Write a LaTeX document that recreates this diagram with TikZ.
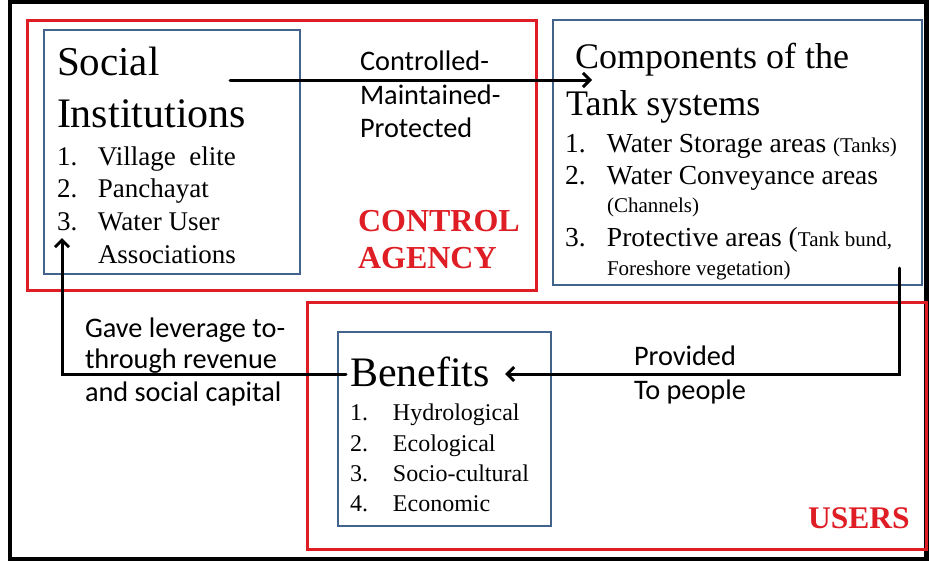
\documentclass[tikz,border=0pt]{standalone}
\usepackage{fontspec}
\setmainfont{Liberation Serif}
\newfontfamily\calibrifont{Carlito}
\usetikzlibrary{arrows.meta,fit}
\definecolor{boxred}{RGB}{222,30,36}
\definecolor{boxblue}{RGB}{66,100,140}
\newcommand{\fsz}[1]{\fontsize{#1}{#1}\selectfont}
\newcommand{\itm}[2]{\makebox[#1][l]{#2}}

\begin{document}
\begin{tikzpicture}[x=1pt,y=-1pt,
  redbox/.style={draw=boxred, line width=3pt, inner sep=0pt},
  bluebox/.style={draw=boxblue, line width=2.3pt, inner sep=0pt},
  flow/.style={line width=3pt, line cap=round,
    -{Straight Barb[length=7pt,width=14pt,line width=3pt]}},
  txt/.style={anchor=base west, inner sep=0pt, outer sep=0pt},
  title/.style={txt, font=\fsz{42}},
  item/.style={txt, font=\fsz{27.5}},
  small/.style={txt, font=\fsz{21}},
  note/.style={txt, font=\calibrifont\fsz{28.3}},
  role/.style={txt, font=\bfseries\fsz{32}, text=boxred}
]
\useasboundingbox (0,0) rectangle (929,562);

% outer frame
\draw[line width=4.5pt] (10,2) rectangle (926.5,559);

% grouping frames
\node[redbox, fit={(27,20) (536,290)}] (agency) {};
\node[redbox, fit={(307,302) (926,549)}] (users) {};

% content boxes
\node[bluebox, fit={(44,30) (300,274)}] (social) {};
\node[bluebox, fit={(553,20) (922,285)}] (tank) {};
\node[bluebox, fit={(338,332) (551,526)}] (benefits) {};

% Social institutions
\node[title, font=\fsz{41}] (socialA) at (57,75) {Social};
\node[title] (socialB) at (57,127) {Institutions};
\node[item, font=\fsz{27}] (soc1) at (57,165) {\itm{41pt}{1.}Village \ elite};
\node[item, font=\fsz{27}] (soc2) at (57,197) {\itm{41pt}{2.}Panchayat};
\node[item, font=\fsz{27}] (soc3) at (57,230) {\itm{41pt}{3.}Water User};
\node[item, font=\fsz{27}] (soc4) at (98,263) {Associations};

% Components of the tank systems
\node[title, font=\fsz{36}] (tankA) at (575,68) {Components of the};
\node[title, font=\fsz{36}] (tankB) at (566,115) {Tank systems};
\node[item] (tank1) at (565,152) {\itm{42pt}{1.}Water Storage areas {\fsz{21}(Tanks)}};
\node[item] (tank2) at (565,184) {\itm{42pt}{2.}Water Conveyance areas};
\node[small] (tank2b) at (607,212) {(Channels)};
\node[item] (tank3) at (565,246) {\itm{42pt}{3.}Protective areas (\fsz{21}Tank bund,};
\node[small] (tank3b) at (607,275) {Foreshore vegetation)};

% Benefits
\node[title] (benA) at (350,386) {Benefits};
\node[item, font=\fsz{24}] (ben1) at (350,420) {\itm{43pt}{1.}Hydrological};
\node[item, font=\fsz{24}] (ben2) at (350,451) {\itm{43pt}{2.}Ecological};
\node[item, font=\fsz{24}] (ben3) at (350,481) {\itm{43pt}{3.}Socio-cultural};
\node[item, font=\fsz{24}] (ben4) at (350,511) {\itm{43pt}{4.}Economic};

% group labels
\node[role] (roleA) at (358,231) {CONTROL};
\node[role] (roleB) at (358,268) {AGENCY};
\node[role, font=\bfseries\fsz{31.5}] (roleC) at (808,528) {USERS};

% connector labels
\node[note] (ctl1) at (360,70) {Controlled-};
\node[note] (ctl2) at (360,104) {Maintained-};
\node[note] (ctl3) at (360,137) {Protected};
\node[note] (lev1) at (85,337) {Gave leverage to-};
\node[note] (lev2) at (85,368) {through revenue};
\node[note] (lev3) at (85,401) {and social capital};
\node[note] (prov1) at (634,365) {Provided};
\node[note] (prov2) at (634,399) {To people};

% connectors
\coordinate (ctlS) at (230,80);
\coordinate (ctlE) at (592,80);
\coordinate (provS) at (899,268);
\coordinate (provE) at (505,374);
\coordinate (levS) at (346,374);
\coordinate (levE) at (62,238);
\draw[flow] (ctlS) -- (ctlE);
\draw[flow] (provS) |- (provE);
\draw[flow] (levS) -| (levE);
\end{tikzpicture}
\end{document}
